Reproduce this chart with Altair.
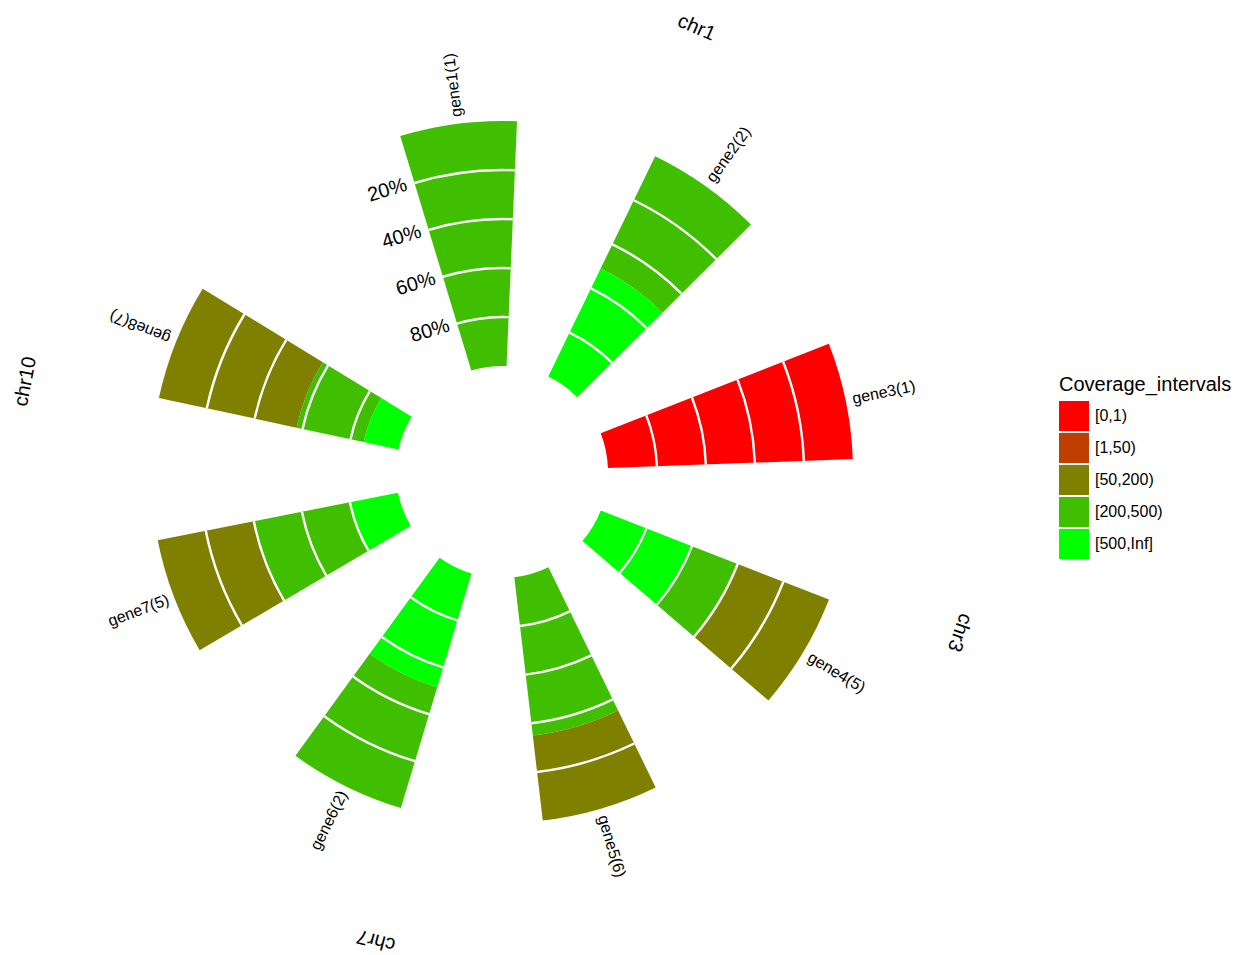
import math
import altair as alt
import pandas as pd

# ---------------- data ----------------
genes = ["gene1", "gene2", "gene3", "gene4", "gene5", "gene6", "gene7", "gene8"]
exon_counts = [1, 2, 1, 5, 6, 2, 5, 7]
chromosomes = ["chr1", "chr1", "chr3", "chr3", "chr7", "chr7", "chr10", "chr10"]
intervals = ["[0,1)", "[1,50)", "[50,200)", "[200,500)", "[500,Inf]"]
colors = ["#FF0000", "#BF3F00", "#7F7F00", "#3FBF00", "#00FF00"]

# coverage segments along each gene, percent from 0 (outer) to 100 (inner)
seg_gene = ["gene1", "gene2", "gene2", "gene3", "gene4", "gene4", "gene4",
            "gene5", "gene5", "gene6", "gene6", "gene7", "gene7", "gene7",
            "gene8", "gene8", "gene8"]
seg_interval = ["[200,500)", "[200,500)", "[500,Inf]", "[0,1)",
                "[50,200)", "[200,500)", "[500,Inf]",
                "[50,200)", "[200,500)",
                "[200,500)", "[500,Inf]",
                "[50,200)", "[200,500)", "[500,Inf]",
                "[50,200)", "[200,500)", "[500,Inf]"]
seg_start = [0, 0, 51, 0, 0, 40, 60, 0, 35, 0, 51.5, 0, 40, 80, 0, 57.5, 85.5]
seg_end = [100, 51, 100, 100, 40, 60, 100, 35, 100, 51.5, 100, 40, 80, 100, 57.5, 85.5, 100]

bin_edges = [0, 20, 40, 60, 80, 100]
pct_ticks = [20, 40, 60, 80]

# ---------------- layout ----------------
SLOT = 42.72     # degrees per gene slot
FIRST = -7.2     # angle of first gene centre
BAR = 19.3       # angular width of a bar
CX, CY = 494, 464
FONT = "Liberation Sans"

idx = {g: i for i, g in enumerate(genes)}


def centre(i):
    return FIRST + i * SLOT


seg_df = pd.DataFrame({"gene": seg_gene, "interval": seg_interval,
                       "start": seg_start, "end": seg_end})
seg_df["t0"] = [centre(idx[g]) - BAR / 2 for g in seg_df["gene"]]
seg_df["t1"] = [centre(idx[g]) + BAR / 2 for g in seg_df["gene"]]

sep_rows = []
for g in genes:
    c = centre(idx[g])
    for e in bin_edges[1:-1]:
        sep_rows.append({"gene": g, "t0": c - BAR / 2, "t1": c + BAR / 2,
                         "r0": e - 0.5, "r1": e + 0.5})
sep_df = pd.DataFrame(sep_rows)

lab_rows = []
for i, g in enumerate(genes):
    c = centre(i)
    raw = ((c - 90 + 180) % 360) - 180
    flip = raw > 90
    rot = raw - 180 if flip else raw
    lab_rows.append({"label": f"{g}({exon_counts[i]})", "theta": c,
                     "rot": rot % 360, "flip": flip})
lab_df = pd.DataFrame(lab_rows)

chr_rows = []
for ch in dict.fromkeys(chromosomes):
    members = [i for i, c in enumerate(chromosomes) if c == ch]
    pos = sum(members) / len(members) + 0.22
    a = FIRST + pos * 42.85
    chr_rows.append({"chr": ch, "theta": a, "rot": a % 360})
chr_df = pd.DataFrame(chr_rows)

tick_df = pd.DataFrame({"pct": pct_ticks, "txt": [f"{p}%" for p in pct_ticks]})
tick_df["theta"] = FIRST - BAR / 2
tick_df["rot"] = (FIRST - BAR / 2) % 360

theta_scale = alt.Scale(domain=[0, 360], range=[0, 2 * math.pi], zero=False, nice=False)
r_scale = alt.Scale(type="linear", domain=[0, 100], range=[351, 106], zero=False, nice=False)

arcs = alt.Chart(seg_df).mark_arc().encode(
    theta=alt.Theta("t0:Q", scale=theta_scale, stack=False),
    theta2="t1",
    radius=alt.Radius("start:Q", scale=r_scale),
    radius2="end",
    color=alt.Color("interval:N",
                    scale=alt.Scale(domain=intervals, range=colors),
                    legend=alt.Legend(title="Coverage_intervals", orient="none",
                                      legendX=1051, legendY=367,
                                      titleFont=FONT, titleFontSize=20,
                                      titleFontWeight="normal", titleColor="black",
                                      titlePadding=6,
                                      labelFont=FONT, labelFontSize=16,
                                      labelColor="black", labelOffset=6,
                                      symbolType="square", symbolSize=900,
                                      symbolStrokeWidth=0, symbolOpacity=1,
                                      rowPadding=2, padding=0)),
    x=alt.value(CX), y=alt.value(CY),
)

seps = alt.Chart(sep_df).mark_arc(color="white").encode(
    theta=alt.Theta("t0:Q", scale=theta_scale, stack=False),
    theta2="t1",
    radius=alt.Radius("r0:Q", scale=r_scale),
    radius2="r1",
    x=alt.value(CX), y=alt.value(CY),
)

gene_left = alt.Chart(lab_df).transform_filter("!datum.flip").mark_text(
    align="left", baseline="middle", font=FONT, fontSize=16, color="black"
).encode(
    theta=alt.Theta("theta:Q", scale=theta_scale, stack=False),
    radius=alt.value(358),
    angle=alt.Angle("rot:Q", scale=None),
    text="label:N",
    x=alt.value(CX), y=alt.value(CY),
)

gene_right = alt.Chart(lab_df).transform_filter("datum.flip").mark_text(
    align="right", baseline="middle", font=FONT, fontSize=16, color="black"
).encode(
    theta=alt.Theta("theta:Q", scale=theta_scale, stack=False),
    radius=alt.value(357),
    angle=alt.Angle("rot:Q", scale=None),
    text="label:N",
    x=alt.value(CX), y=alt.value(CY),
)

chr_text = alt.Chart(chr_df).mark_text(
    align="center", baseline="middle", font=FONT, fontSize=20, color="black"
).encode(
    theta=alt.Theta("theta:Q", scale=theta_scale, stack=False),
    radius=alt.value(485),
    angle=alt.Angle("rot:Q", scale=None),
    text="chr:N",
    x=alt.value(CX), y=alt.value(CY),
)

ticks = alt.Chart(tick_df).mark_text(
    align="right", baseline="middle", font=FONT, fontSize=20, color="black",
    dx=-8, dy=-1
).encode(
    theta=alt.Theta("theta:Q", scale=theta_scale, stack=False),
    radius=alt.Radius("pct:Q", scale=r_scale),
    angle=alt.Angle("rot:Q", scale=None),
    text="txt:N",
    x=alt.value(CX), y=alt.value(CY),
)

chart = alt.layer(arcs, seps, gene_left, gene_right, chr_text, ticks).properties(
    width=1230, height=947,
    autosize=alt.AutoSizeParams(type="none"),
    padding=0,
    background="white",
).configure_view(strokeWidth=0)

chart.save("out.html", embed_options={"renderer": "svg", "actions": False})
